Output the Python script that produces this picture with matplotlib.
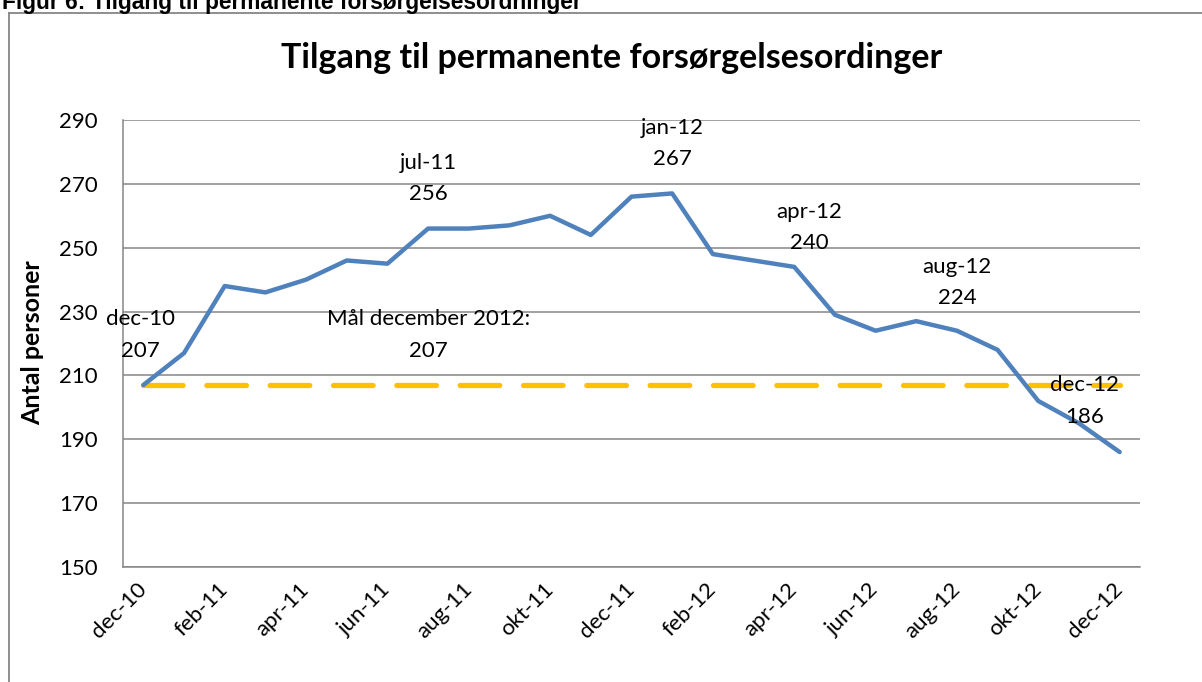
import matplotlib
matplotlib.use("Agg")
from matplotlib import pyplot as plt
from matplotlib.lines import Line2D

# monthly intake dec-10 .. dec-12
months = ['dec-10', 'jan-11', 'feb-11', 'mar-11', 'apr-11', 'maj-11', 'jun-11',
          'jul-11', 'aug-11', 'sep-11', 'okt-11', 'nov-11', 'dec-11',
          'jan-12', 'feb-12', 'mar-12', 'apr-12', 'maj-12', 'jun-12',
          'jul-12', 'aug-12', 'sep-12', 'okt-12', 'nov-12', 'dec-12']
intake = [207, 217, 238, 236, 240, 246, 245, 256, 256, 257, 260, 254, 266,
          267, 248, 246, 244, 229, 224, 227, 224, 218, 202, 195, 186]
target = 207
yticks = [150, 170, 190, 210, 230, 250, 270, 290]

# data labels: (index, text, dx px, dy px)
labels = [(0, 'dec-10\n207', -3, 50),
          (7, 'jul-11\n256', 0, 50),
          (13, 'jan-12\n267', 0, 50),
          (16, 'apr-12\n240', 15, 39),
          (20, 'aug-12\n224', 0, 48),
          (24, 'dec-12\n186', -35, 51)]
target_label = (7, 'Mål december 2012:\n207', 0, 50)

plt.rcParams['font.family'] = ['Lato', 'DejaVu Sans']

fig = plt.figure(figsize=(12.02, 6.82), dpi=100)
W, H = 1202.0, 682.0
ax = fig.add_axes([123 / W, 1 - 567 / H, (1140 - 123) / W, (567 - 120) / H])

x = list(range(len(months)))
ax.plot(x, [target] * len(x), color='#FFC000', lw=3.8, dashes=(7.5, 4.5),
        solid_capstyle='round', dash_capstyle='round', zorder=3)
ax.plot(x, intake, color='#4F81BD', lw=3.2, solid_joinstyle='round',
        solid_capstyle='round', zorder=4)

ax.set_xlim(-0.5, len(x) - 0.5)
ax.set_ylim(150, 290)
ax.set_yticks(yticks)
ax.set_xticks(x[::2])
ax.set_xticklabels(months[::2], rotation=45, ha='right', va='center',
                   rotation_mode='anchor')
ax.tick_params(axis='both', length=0, labelsize=16)
ax.tick_params(axis='x', pad=14)
ax.tick_params(axis='y', pad=18)
ax.grid(axis='y', color='#868686', lw=1.1)
ax.set_axisbelow(True)
for s in ['top', 'right']:
    ax.spines[s].set_visible(False)
ax.spines['left'].set_color('#868686')
ax.spines['bottom'].set_color('#868686')
ax.spines['left'].set_linewidth(1.1)
ax.spines['bottom'].set_linewidth(1.1)

for i, txt, dx, dy in labels:
    ax.annotate(txt, (i, intake[i]), xytext=(dx, dy), textcoords='offset pixels',
                ha='center', va='center', fontsize=16, linespacing=1.7, zorder=5)
i, txt, dx, dy = target_label
ax.annotate(txt, (i, target), xytext=(dx, dy), textcoords='offset pixels',
            ha='center', va='center', fontsize=16, linespacing=1.7, zorder=5)

# y label placed by hand in figure pixels
fig.text(33 / W, 1 - 343 / H, 'Antal personer', rotation=90, ha='center',
         va='center', fontsize=18, fontweight='bold')

fig.text(612 / W, 1 - 58 / H, 'Tilgang til permanente forsørgelsesordinger',
         ha='center', va='center', fontsize=24.5, fontweight='bold')
fig.text(2 / W, 1 - 9 / H, 'Figur 6: Tilgang til permanente forsørgelsesordninger',
         ha='left', va='baseline', fontsize=16.4, fontweight='bold',
         family='Liberation Sans')

# outer chart frame (runs off the page on the right and bottom)
fig.add_artist(Line2D([8.5 / W, 8.5 / W], [0, 1 - 13 / H], transform=fig.transFigure,
                      color='#868686', lw=1.3))
fig.add_artist(Line2D([8.5 / W, 1], [1 - 13 / H, 1 - 13 / H], transform=fig.transFigure,
                      color='#868686', lw=1.3))

fig.savefig('out.png', dpi=100)
